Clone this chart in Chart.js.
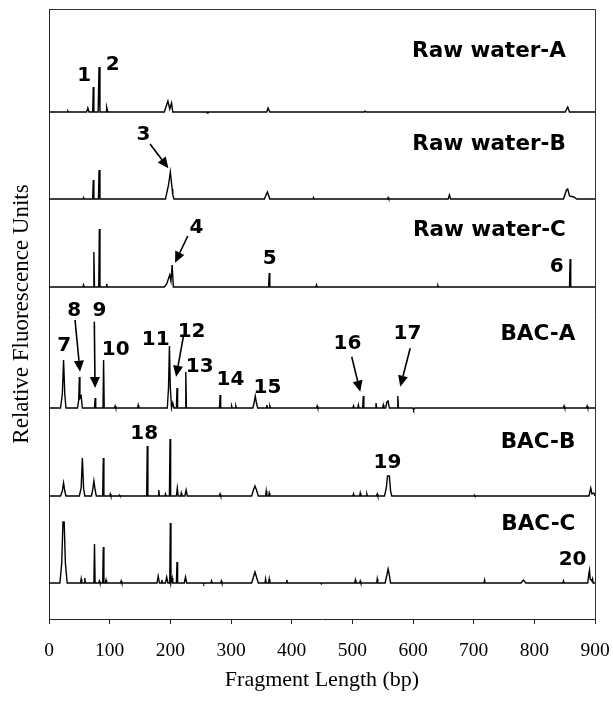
<!DOCTYPE html>
<html><head><meta charset="utf-8">
<script src="https://cdn.jsdelivr.net/npm/chart.js@4/dist/chart.umd.min.js"></script>
<style>html,body{margin:0;padding:0;background:#fff}#wrap{width:613px;height:702px}</style>
</head><body><div id="wrap"><canvas id="c" width="613" height="702"></canvas></div>
<script>
// ---------- DATA (fragment length bp, relative fluorescence) ----------
const xTicks = [0,100,200,300,400,500,600,700,800,900];
const sampleNames = ['Raw water-A','Raw water-B','Raw water-C','BAC-A','BAC-B','BAC-C'];

const rawA = [[0,0],[30,0],[31,1],[32,0],[62,0],[64,4],[66,0],[72,0],[73,25],[74,0],[81,0],[82.5,45],[84,0],[94,0],[95,5],[97,0],
  [190,0],[196,11],[199,3],[202,9],[204,0],[260,0],[261,-1],[262,0],[359,0],[361,4],[364,0],[520,0],[521,1],[523,0],
  [851,0],[855,5],[858,0],[900,0]];
const rawB = [[0,0],[56,0],[57,1.5],[58,0],[72,0],[73,19],[74,0],[81.5,0],[82.5,29],[84,0],[192,0],[197,14],[200,27],[203,10],[204,4],[206,0],
  [355,0],[360,7],[364,0],[435,0],[436,1.5],[437,0],[558,0],[559,1.5],[560,0],[658,0],[660,4],[662,0],
  [848,0],[853,9],[855,10],[858,3],[865,2],[870,0],[900,0]];
const rawC = [[0,0],[56,0],[57,2],[58,0],[73,0],[74,35],[75,0],[82,0],[83,58],[84,0],[94,0],[95,3],[96,0],
  [190,0],[194,3],[199,12],[201,6],[203,22],[205,0],[362,0],[363,14],[364,0],[440,0],[441,2],[442,0],[640,0],[641,1.5],[642,0],
  [858,0],[859,28],[860,0],[900,0]];
const bacA = [[0,0],[19,0],[22,14],[24,48],[26,14],[28,0],[47,0],[49,8],[50,31],[51,10],[53,12],[55,0],[75,0],[76,10],[77,0],
  [89,0],[90,48],[91,0],[108,0],[109,2],[110,0],[146,0],[147,3],[148,0],[195,0],[197,20],[198.5,62],[200,20],[202,0],[204,5],[206,0],
  [210,0],[211,20],[212,0],[224.5,0],[225.5,36],[226.5,0],[281,0],[282,13],[283,0],[300,0],[301,2],[302,0],[307,0],[308,2],[309,0],
  [336,0],[338,5],[340,12],[342,5],[344,0],[358,0],[359,3],[360,0],[363,0],[364,2],[365,0],[441,0],[442,2],[443,0],
  [501,0],[502,2],[503,0],[509,0],[510,3],[511,0],[517,0],[518,12],[519,0],[538,0],[539,5],[540,0],[550,0],[551,3],[552,0],
  [555,0],[557,6],[559,7],[561,0],[574,0],[575,12],[576,0],[600,0],[601,-2],[603,0],[848,0],[849,2],[850,0],[886,0],[887,2],[888,0],[900,0]];
const bacB = [[0,0],[19,0],[22,5],[24,13],[26,5],[28,0],[50,0],[53,8],[55,38],[57,8],[59,0],[70,0],[72,6],[74,15],[76,6],[78,0],
  [88.5,0],[89.5,38],[90.5,0],[100,0],[101,2],[102,0],[115,0],[116,1],[117,0],[161,0],[162,50],[163,0],[180,0],[181,6],[182,0],
  [191,0],[192,2],[193,0],[198.5,0],[199.5,57],[200.5,0],[210,0],[211.5,8],[213,0],[217,0],[218,3],[219,0],[224,0],[226,6],[228,0],
  [281,0],[282,2],[283,0],[334,0],[337,6],[339.5,10],[342,6],[345,0],[357,0],[358,5],[359,0],[362,0],[363,3],[364,0],
  [501,0],[502,2],[503,0],[512,0],[513,3],[514,0],[523,0],[524,2],[525,0],[540,0],[541,2],[542,0],
  [553,0],[556,8],[558,20],[561,20],[563,5],[565,0],[700,0],[701,1],[702,0],[890,0],[893,8],[895,2],[898,3],[900,0]];
const bacC = [[0,0],[18,0],[21,20],[23,61],[25,61],[27,20],[30,0],[52,0],[53,4],[54,0],[58,0],[59,5],[60,0],[74,0],[75,39],[76,0],
  [82,0],[83,2],[84,0],[88.5,0],[89.5,36],[90.5,0],[93,0],[94,3],[95,0],[118,0],[119,2],[120,0],[178,0],[180,7],[182,0],
  [185,0],[186,3],[187,0],[192,0],[194,6],[196,0],[199,0],[200,60],[201,0],[203,5],[204,0],[210,0],[211,21],[212,0],
  [223,0],[225,6],[227,0],[254,0],[255,-1],[256,0],[267,0],[268,2],[269,0],[283,0],[284,2],[285,0],
  [334,0],[337,6],[339.5,11],[342,6],[345,0],[356,0],[357,4],[358,0],[362,0],[363,4],[364,0],[391,0],[392,3],[393,0],
  [448,0],[449,-1],[450,0],[504,0],[505,3],[506,0],[512,0],[513,2],[514,0],[540,0],[541,4],[542,0],
  [554,0],[557,8],[559,14],[561,8],[563,0],[717,0],[718,3],[719,0],[778,0],[782,3],[786,0],[847,0],[848,2],[849,0],
  [888,0],[890,10],[891,13],[892,4],[895,2],[896,4],[897,0],[900,0]];
const traces = [rawA, rawB, rawC, bacA, bacB, bacC];

// ---------- LAYOUT (panel offsets on the stacked y scale) ----------
const panelBase = [507, 420, 332, 211, 123, 36];
const Y_MAX = 610;

// annotations in data units (bp, stacked y)
const peakLabels = [
  ['1',58,545],['2',105,556.5],['3',155.5,486],['4',243,393],['5',364,362],['6',837,354],
  ['7',25,275],['8',41.5,310],['9',83,310],['10',110,271.5],['11',176,281.5],['12',235,289.5],
  ['13',248.5,254],['14',299,241],['15',360,233.7],['16',492,277],['17',591,287.3],
  ['18',157,187],['19',558,158.5],['20',863,61.5]];
const arrows = [
  [166.6,475,196.8,450.7],[228.8,383,207.8,356.3],[42.9,299,51.1,247.3],[74.7,297.3,75.9,231],
  [221.5,282.3,209.5,242.3],[499,262.3,513,227.3],[595.4,270.7,579,232.3]];
const nameRight = [852,852,852,867.6,867.6,867.6];
const nameY = [570,476.5,391,287,179,97];

const datasets = traces.map((t,i)=>({
  label: sampleNames[i],
  data: t.map(p=>({x:p[0], y:panelBase[i]+p[1]})),
  showLine:true, pointRadius:0, borderColor:'#000', borderWidth:1.4, tension:0, fill:false
}));

const annot = {
  id:'annot',
  afterDraw(chart){
    const {ctx, chartArea:a, scales:{x,y}} = chart;
    ctx.save();
    // frame (top and right)
    ctx.strokeStyle='#333'; ctx.lineWidth=1;
    ctx.beginPath();
    ctx.moveTo(a.left, a.top+0.5); ctx.lineTo(a.right+0.5, a.top+0.5); ctx.lineTo(a.right+0.5, a.bottom);
    ctx.stroke();
    // sample names
    ctx.fillStyle='#000';
    const fs=21.5;
    ctx.font='bold '+fs+'px "DejaVu Sans"';
    ctx.textAlign='right'; ctx.textBaseline='alphabetic';
    sampleNames.forEach((n,i)=>{
      ctx.fillText(n, x.getPixelForValue(nameRight[i]), y.getPixelForValue(nameY[i]) + fs*0.729/2);
    });
    // peak numbers
    const ns=20;
    ctx.font='bold '+ns+'px "DejaVu Sans"';
    ctx.textAlign='center';
    peakLabels.forEach(([t,bx,by])=>{
      ctx.fillText(t, x.getPixelForValue(bx), y.getPixelForValue(by) + ns*0.729/2);
    });
    // arrows
    ctx.strokeStyle='#000'; ctx.lineWidth=1.6;
    arrows.forEach(([x0,y0,x1,y1])=>{
      const px0=x.getPixelForValue(x0), py0=y.getPixelForValue(y0);
      const px1=x.getPixelForValue(x1), py1=y.getPixelForValue(y1);
      const ang=Math.atan2(py1-py0, px1-px0);
      const L=11, W=5;
      const bx=px1-L*Math.cos(ang), by=py1-L*Math.sin(ang);
      ctx.beginPath(); ctx.moveTo(px0,py0); ctx.lineTo(bx,by); ctx.stroke();
      ctx.beginPath();
      ctx.moveTo(px1,py1);
      ctx.lineTo(bx+W*Math.sin(ang), by-W*Math.cos(ang));
      ctx.lineTo(bx-W*Math.sin(ang), by+W*Math.cos(ang));
      ctx.closePath(); ctx.fill();
    });
    ctx.restore();
  }
};

new Chart(document.getElementById('c'), {
  type:'scatter',
  data:{datasets},
  options:{
    responsive:false, animation:false,
    layout:{padding:{left:0,right:18,top:9,bottom:0}},
    plugins:{legend:{display:false}, tooltip:{enabled:false}},
    scales:{
      x:{type:'linear', min:0, max:900,
        afterBuildTicks:s=>{ s.ticks = xTicks.map(v=>({value:v})); },
        ticks:{font:{family:'"Liberation Serif"', size:19.5}, color:'#000', padding:15, maxRotation:0, autoSkip:false},
        grid:{drawOnChartArea:false, tickLength:5, color:'#222', lineWidth:1},
        border:{display:true, color:'#222', width:1},
        title:{display:true, text:'Fragment Length (bp)', font:{family:'"Liberation Serif"', size:22}, color:'#000', padding:{top:0,bottom:9}},
        afterFit:s=>{ s.height=83; s.paddingLeft=0; s.paddingRight=0; }
      },
      y:{type:'linear', min:0, max:Y_MAX,
        ticks:{display:false}, grid:{display:false},
        border:{display:true, color:'#222', width:1},
        title:{display:true, text:'Relative Fluorescence Units', font:{family:'"Liberation Serif"', size:23}, color:'#000', padding:{top:8,bottom:0}},
        afterFit:s=>{ s.width=49; s.paddingTop=0; s.paddingBottom=0; }
      }
    }
  },
  plugins:[annot]
});
</script></body></html>
